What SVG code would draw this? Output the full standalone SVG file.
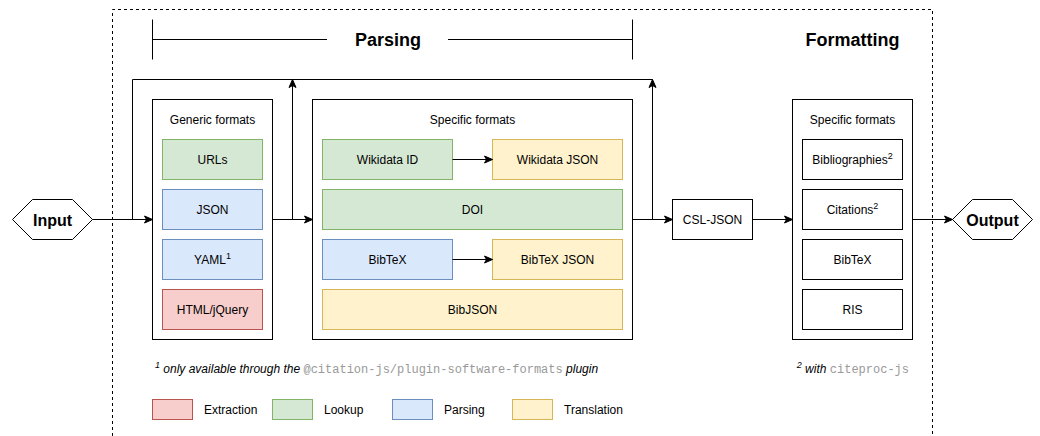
<svg xmlns="http://www.w3.org/2000/svg" width="1040" height="436" viewBox="0 0 1040 436">
  <style>
    text { font-family: "Liberation Sans", Arial, sans-serif; font-size: 12px; fill: #000; }
    .c { text-anchor: middle; }
    .title { font-size: 18px; font-weight: bold; }
    .io { font-size: 16px; font-weight: bold; }
    .sup { font-size: 9px; }
    .note { font-style: italic; }
    .mono { font-family: "Liberation Mono", "Courier New", monospace; font-style: normal; fill: #999; }
    .frame { fill: #fff; stroke: #000; stroke-width: 1; }
    .line { fill: none; stroke: #000; stroke-width: 1; }
    .arrow { fill: none; stroke: #000; stroke-width: 1; marker-end: url(#head); }
    .green { fill: #d5e8d4; stroke: #82b366; }
    .blue { fill: #dae8fc; stroke: #6c8ebf; }
    .red { fill: #f8cecc; stroke: #b85450; }
    .yellow { fill: #fff2cc; stroke: #d6b656; }
    .plain { fill: #fff; stroke: #000; }
  </style>
  <defs>
    <marker id="head" markerUnits="userSpaceOnUse" markerWidth="10" markerHeight="10" viewBox="0 0 10 10" refX="9" refY="5" orient="auto">
      <path d="M1,1.5 L9,5 L1,8.5 L3,5 Z" fill="#000" stroke="#000" stroke-width="1" stroke-linejoin="miter"/>
    </marker>
  </defs>

  <rect width="1040" height="436" fill="#fff"/>

  <!-- library boundary -->
  <path d="M112.5,436 V9.5 H932.5 V436" fill="none" stroke="#000" stroke-width="1" stroke-dasharray="3 3"/>

  <!-- stage headings -->
  <g id="parsing-bracket">
    <path class="line" d="M152.5,19.5 V59.5 M152.5,39.5 H327 M448,39.5 H632.5 M632.5,19.5 V59.5"/>
    <text class="title c" x="388" y="46">Parsing</text>
  </g>
  <g id="formatting-heading">
    <text class="title c" x="852.5" y="46">Formatting</text>
  </g>

  <!-- input -->
  <g id="input">
    <polygon class="frame" points="12.5,219.5 32.5,199.5 72.5,199.5 92.5,219.5 72.5,239.5 32.5,239.5"/>
    <text class="io c" x="52.5" y="225.5">Input</text>
  </g>

  <!-- generic formats -->
  <g id="generic-formats">
    <rect class="frame" x="152.5" y="99.5" width="120" height="240"/>
    <text class="c" x="212.5" y="124">Generic formats</text>
  </g>
  <g id="urls">
    <rect class="green" x="162.5" y="139.5" width="100" height="40"/>
    <text class="c" x="212.5" y="164">URLs</text>
  </g>
  <g id="json">
    <rect class="blue" x="162.5" y="189.5" width="100" height="40"/>
    <text class="c" x="212.5" y="214">JSON</text>
  </g>
  <g id="yaml">
    <rect class="blue" x="162.5" y="239.5" width="100" height="40"/>
    <text class="c" x="212.5" y="264">YAML<tspan class="sup" dy="-5">1</tspan></text>
  </g>
  <g id="html-jquery">
    <rect class="red" x="162.5" y="289.5" width="100" height="40"/>
    <text class="c" x="212.5" y="314">HTML/jQuery</text>
  </g>

  <!-- specific input formats -->
  <g id="specific-input-formats">
    <rect class="frame" x="312.5" y="99.5" width="320" height="240"/>
    <text class="c" x="472.5" y="124">Specific formats</text>
  </g>
  <g id="wikidata-id">
    <rect class="green" x="322.5" y="139.5" width="130" height="40"/>
    <text class="c" x="387.5" y="164">Wikidata ID</text>
  </g>
  <g id="wikidata-json">
    <rect class="yellow" x="492.5" y="139.5" width="130" height="40"/>
    <text class="c" x="557.5" y="164">Wikidata JSON</text>
  </g>
  <g id="doi">
    <rect class="green" x="322.5" y="189.5" width="300" height="40"/>
    <text class="c" x="472.5" y="214">DOI</text>
  </g>
  <g id="bibtex-in">
    <rect class="blue" x="322.5" y="239.5" width="130" height="40"/>
    <text class="c" x="387.5" y="264">BibTeX</text>
  </g>
  <g id="bibtex-json">
    <rect class="yellow" x="492.5" y="239.5" width="130" height="40"/>
    <text class="c" x="557.5" y="264">BibTeX JSON</text>
  </g>
  <g id="bibjson">
    <rect class="yellow" x="322.5" y="289.5" width="300" height="40"/>
    <text class="c" x="472.5" y="314">BibJSON</text>
  </g>

  <!-- internal format -->
  <g id="csl-json">
    <rect class="frame" x="672.5" y="199.5" width="80" height="40"/>
    <text class="c" x="712.5" y="224">CSL-JSON</text>
  </g>

  <!-- output formats -->
  <g id="specific-output-formats">
    <rect class="frame" x="792.5" y="99.5" width="120" height="240"/>
    <text class="c" x="852.5" y="124">Specific formats</text>
  </g>
  <g id="bibliographies">
    <rect class="plain" x="802.5" y="139.5" width="100" height="40"/>
    <text class="c" x="852.5" y="164">Bibliographies<tspan class="sup" dy="-5">2</tspan></text>
  </g>
  <g id="citations">
    <rect class="plain" x="802.5" y="189.5" width="100" height="40"/>
    <text class="c" x="852.5" y="214">Citations<tspan class="sup" dy="-5">2</tspan></text>
  </g>
  <g id="bibtex-out">
    <rect class="plain" x="802.5" y="239.5" width="100" height="40"/>
    <text class="c" x="852.5" y="264">BibTeX</text>
  </g>
  <g id="ris">
    <rect class="plain" x="802.5" y="289.5" width="100" height="40"/>
    <text class="c" x="852.5" y="314">RIS</text>
  </g>

  <!-- output -->
  <g id="output">
    <polygon class="frame" points="952.5,219.5 972.5,199.5 1012.5,199.5 1032.5,219.5 1012.5,239.5 972.5,239.5"/>
    <text class="io c" x="992.5" y="225.5">Output</text>
  </g>

  <!-- connectors, drawn over the frames -->
  <g id="connectors">
    <path class="arrow" d="M92.5,219.5 H152.5"/>
    <path class="line" d="M132.5,219.5 V79.5 H652.5"/>
    <path class="arrow" d="M272.5,219.5 H312.5"/>
    <path class="arrow" d="M292.5,219.5 V79.5"/>
    <path class="arrow" d="M452.5,159.5 H492.5"/>
    <path class="arrow" d="M452.5,259.5 H492.5"/>
    <path class="arrow" d="M632.5,219.5 H672.5"/>
    <path class="arrow" d="M652.5,219.5 V79.5"/>
    <path class="arrow" d="M752.5,219.5 H792.5"/>
    <path class="arrow" d="M912.5,219.5 H952.5"/>
  </g>

  <!-- footnotes -->
  <g id="footnote-1">
    <text class="note" x="155" y="373"><tspan class="sup" dy="-5">1</tspan><tspan dy="5"> only available through the </tspan><tspan class="mono">@citation-js/plugin-software-formats</tspan> plugin</text>
  </g>
  <g id="footnote-2">
    <text class="note" x="909" y="373" text-anchor="end"><tspan class="sup" dy="-5">2</tspan><tspan dy="5"> with </tspan><tspan class="mono">citeproc-js</tspan></text>
  </g>

  <!-- legend -->
  <g id="legend-extraction">
    <rect class="red" x="152.5" y="399.5" width="40" height="20"/>
    <text x="204" y="413.5">Extraction</text>
  </g>
  <g id="legend-lookup">
    <rect class="green" x="272.5" y="399.5" width="40" height="20"/>
    <text x="324" y="413.5">Lookup</text>
  </g>
  <g id="legend-parsing">
    <rect class="blue" x="392.5" y="399.5" width="40" height="20"/>
    <text x="444" y="413.5">Parsing</text>
  </g>
  <g id="legend-translation">
    <rect class="yellow" x="512.5" y="399.5" width="40" height="20"/>
    <text x="564" y="413.5">Translation</text>
  </g>
</svg>
